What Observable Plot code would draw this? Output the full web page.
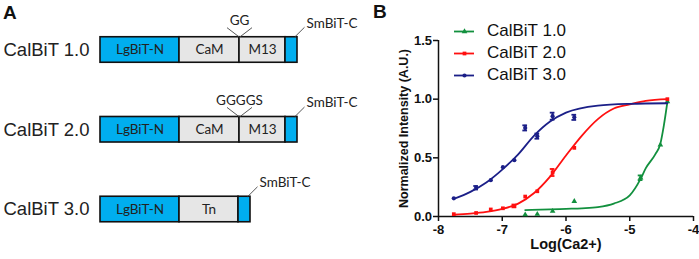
<!DOCTYPE html>
<html><head><meta charset="utf-8">
<script src="https://cdn.jsdelivr.net/npm/d3@7"></script>
<script src="https://cdn.jsdelivr.net/npm/@observablehq/plot@0.6"></script>
<style>
body{margin:0;background:#fff;}
#wrap{position:relative;width:699px;height:259px;overflow:hidden;background:#fff;font-family:"Liberation Sans",Arial,sans-serif;}
.panel{position:absolute;top:0;}
.plabel{position:absolute;font-weight:bold;font-size:19px;line-height:19px;color:#111;}
.leg{position:absolute;left:452px;display:flex;align-items:center;font-size:17px;color:#111;}
.leg svg{margin-right:11px;}
</style></head><body><div id="wrap"></div>
<script>
// ---------- Panel A data ----------
const constructs = ["CalBiT 1.0", "CalBiT 2.0", "CalBiT 3.0"];
const domainNames = [
  ["LgBiT-N", "CaM", "M13", "SmBiT-C"],
  ["LgBiT-N", "CaM", "M13", "SmBiT-C"],
  ["LgBiT-N", "Tn", "SmBiT-C"]
];
const domainLengths = [
  [79, 60, 46, 12],
  [79, 60, 46, 12],
  [79, 59, 12]
];
const linkerLabels = ["GG", "GGGGS", ""];
const tagLabel = "SmBiT-C";

// ---------- Panel B data ----------
const seriesNames = ["CalBiT 1.0", "CalBiT 2.0", "CalBiT 3.0"];
const logCa = [-7.76, -7.41, -7.18, -6.99, -6.81, -6.64, -6.45, -6.21, -5.87, -4.83, -4.52, -4.41];
const cal1 = [null, null, null, null, null, 0.015, 0.02, 0.045, 0.13, 0.33, 0.61, 0.98];
const cal2 = [0.02, 0.03, 0.06, 0.07, 0.09, 0.17, 0.215, 0.375, 0.585, null, null, 1.0];
const cal3 = [0.155, 0.245, 0.31, 0.42, 0.48, 0.755, 0.685, 0.855, 0.845, null, null, null];
const err1 = [0, 0, 0, 0, 0, 0, 0, 0, 0, 0.02, 0, 0];
const err2 = [0, 0, 0, 0, 0.012, 0, 0, 0.03, 0, 0, 0, 0];
const err3 = [0, 0.015, 0, 0, 0, 0.022, 0.022, 0.03, 0.022, 0, 0, 0];

const fitX1 = [-6.64, -6.25, -6.0, -5.75, -5.5, -5.25, -5.0, -4.83, -4.75, -4.6, -4.52, -4.47, -4.41];
const fitY1 = [0.055, 0.06, 0.065, 0.07, 0.08, 0.11, 0.18, 0.32, 0.41, 0.53, 0.62, 0.76, 0.975];
const fitX2 = [-7.76, -7.5, -7.25, -7.0, -6.75, -6.5, -6.25, -6.0, -5.75, -5.5, -5.25, -5.0, -4.75, -4.41];
const fitY2 = [0.015, 0.025, 0.04, 0.065, 0.11, 0.2, 0.34, 0.52, 0.69, 0.83, 0.92, 0.955, 0.985, 1.0];
const fitX3 = [-7.76, -7.5, -7.25, -7.0, -6.75, -6.5, -6.25, -6.0, -5.5, -5.0, -4.41];
const fitY3 = [0.15, 0.21, 0.29, 0.40, 0.53, 0.69, 0.81, 0.885, 0.945, 0.96, 0.965];

const xTicks = [-8, -7, -6, -5, -4];
const yTicks = [0, 0.5, 1.0, 1.5];

const colors = ["#12903e", "#ff1010", "#1b1f88"];
const symbols = ["triangle", "square", "circle"];

const wrap = document.getElementById("wrap");

// ---------- Panel A ----------
const segs = [];
constructs.forEach((c, i) => {
  let x = 100;
  domainNames[i].forEach((n, j) => {
    const len = domainLengths[i][j];
    segs.push({row: i, name: n, idx: j, x1: x, x2: x + len});
    x += len;
  });
});
const H = 0.16;
const junctions = linkerLabels.map((l, i) => ({row: i, label: l, x: segs.find(s => s.row === i && s.idx === 1).x2})).filter(d => d.label);
const ends = constructs.map((c, i) => ({row: i, x: d3.max(segs.filter(s => s.row === i), s => s.x2)}));

const panelA = Plot.plot({
  width: 360, height: 259, margin: 0,
  x: {domain: [0, 360], range: [0, 360], axis: null},
  y: {domain: [0, 2], range: [49.5, 209], axis: null},
  style: {background: "transparent", overflow: "visible", fontFamily: "Liberation Sans, Arial, sans-serif"},
  marks: [
    Plot.rect(segs, {x1: "x1", x2: "x2", y1: d => d.row - H, y2: d => d.row + H,
      fill: d => (d.name === "LgBiT-N" || d.name === tagLabel) ? "#00aeef" : "#e6e6e6",
      stroke: "#111", strokeWidth: 1.6}),
    Plot.text(segs.filter(d => d.name !== tagLabel), {x: d => (d.x1 + d.x2) / 2, y: "row", text: "name",
      fontSize: 13.5, fontFamily: "Lato, Open Sans, sans-serif", fill: "#222"}),
    Plot.text(constructs, {y: (d, i) => i, text: d => d, frameAnchor: "left", textAnchor: "start", dx: 3,
      fontSize: 18.5, fill: "#222"}),
    Plot.link(junctions, {x1: d => d.x - 12.5, y1: d => d.row - 0.28, x2: "x", y2: d => d.row - H, stroke: "#444", strokeWidth: 0.9}),
    Plot.link(junctions, {x1: d => d.x + 12.5, y1: d => d.row - 0.28, x2: "x", y2: d => d.row - H, stroke: "#444", strokeWidth: 0.9}),
    Plot.text(junctions, {x: "x", y: d => d.row - 0.37, text: "label", fontSize: 13.5, fontFamily: "Lato, Open Sans, sans-serif", fill: "#222"}),
    Plot.link(ends, {x1: d => d.x - 3, y1: d => d.row - H, x2: d => d.x + 7, y2: d => d.row - H - 0.125, stroke: "#444", strokeWidth: 0.9}),
    Plot.text(ends, {x: d => d.x + 9, y: d => d.row - 0.335, text: () => tagLabel, textAnchor: "start", fontSize: 13.5, fontFamily: "Lato, Open Sans, sans-serif", fill: "#222"})
  ]
});
panelA.classList.add("panel");
panelA.style.left = "0px";
wrap.appendChild(panelA);

// ---------- Panel B ----------
const seriesVals = [cal1, cal2, cal3];
const seriesErr = [err1, err2, err3];
const fitsX = [fitX1, fitX2, fitX3];
const fitsY = [fitY1, fitY2, fitY3];

const marks = [
  Plot.ruleY([0], {stroke: "#111", strokeWidth: 1.5}),
  Plot.ruleX([-8], {stroke: "#111", strokeWidth: 1.5}),
  Plot.axisX({ticks: xTicks, tickSize: 5, tickPadding: 3, tickFormat: d => String(d), fontWeight: "bold", fontSize: 13, label: null, stroke: "#111", strokeWidth: 1.5, fill: "#111"}),
  Plot.axisY({ticks: yTicks, tickSize: 5, tickPadding: 1.5, tickFormat: d3.format(".1f"), fontWeight: "bold", fontSize: 13, label: null, stroke: "#111", strokeWidth: 1.5, fill: "#111"}),
  Plot.text(["Log(Ca2+)"], {frameAnchor: "bottom", dy: 32, fontWeight: "bold", fontSize: 14.5, fill: "#111"}),
  Plot.text(["Normalized Intensity (A.U.)"], {frameAnchor: "left", textAnchor: "middle", rotate: -90, dx: -35, fontWeight: "bold", fontSize: 12.5, fill: "#111"})
];
[0, 1, 2].forEach(s => {
  const fit = fitsX[s].map((x, i) => ({x, y: fitsY[s][i]}));
  const pts = logCa.map((x, i) => ({x, y: seriesVals[s][i], e: seriesErr[s][i]})).filter(d => d.y != null);
  const eb = pts.filter(d => d.e > 0);
  marks.push(
    Plot.line(fit, {x: "x", y: "y", stroke: colors[s], strokeWidth: 1.8, curve: "monotone-x"}),
    Plot.ruleX(eb, {x: "x", y1: d => d.y - d.e, y2: d => d.y + d.e, stroke: colors[s], strokeWidth: 2}),
    Plot.ruleY(eb, {y: d => d.y + d.e, x1: d => d.x - 0.037, x2: d => d.x + 0.037, stroke: colors[s], strokeWidth: 1.8}),
    Plot.ruleY(eb, {y: d => d.y - d.e, x1: d => d.x - 0.037, x2: d => d.x + 0.037, stroke: colors[s], strokeWidth: 1.8}),
    Plot.dot(pts, {x: "x", y: "y", symbol: symbols[s], r: 2.1, fill: colors[s], stroke: "none"})
  );
});

const panelB = Plot.plot({
  width: 349, height: 259,
  marginLeft: 88, marginRight: 6, marginTop: 40, marginBottom: 43,
  x: {domain: [-8, -4], axis: null},
  y: {domain: [0, 1.5], axis: null},
  style: {background: "transparent", overflow: "visible", fontFamily: "Liberation Sans, Arial, sans-serif"},
  marks
});
panelB.classList.add("panel");
panelB.style.left = "350px";
wrap.appendChild(panelB);

// ---------- Labels & legend ----------
const la = document.createElement("div"); la.className = "plabel"; la.textContent = "A"; la.style.left = "3px"; la.style.top = "3px"; wrap.appendChild(la);
const lb = document.createElement("div"); lb.className = "plabel"; lb.textContent = "B"; lb.style.left = "373px"; lb.style.top = "2px"; wrap.appendChild(lb);

const legTops = [31, 53, 75];
seriesNames.forEach((name, s) => {
  const row = document.createElement("div");
  row.className = "leg";
  row.style.top = (legTops[s] - 10) + "px";
  row.style.height = "20px";
  const sw = Plot.plot({
    width: 24, height: 20, margin: 0,
    x: {domain: [0, 1], range: [2, 22], axis: null},
    y: {domain: [0, 1], range: [20, 0], axis: null},
    style: {background: "transparent", overflow: "visible"},
    marks: [
      Plot.ruleY([0.5], {x1: 0, x2: 1, stroke: colors[s], strokeWidth: 1.8}),
      Plot.dot([0.5], {x: d => d, y: 0.5, symbol: symbols[s], r: 2.1, fill: colors[s], stroke: "none"})
    ]
  });
  row.appendChild(sw);
  const t = document.createElement("span");
  t.textContent = name;
  row.appendChild(t);
  wrap.appendChild(row);
});
</script></body></html>
